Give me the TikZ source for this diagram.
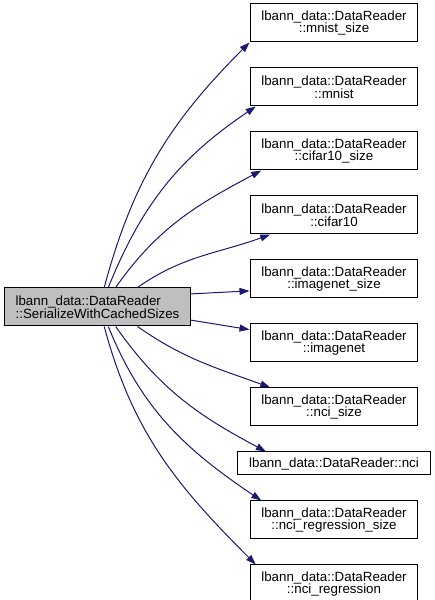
\documentclass[tikz,border=0pt]{standalone}
\usepackage{fontspec}
\setmainfont{Liberation Sans}
\usepackage{xcolor}
\usepackage{tikz}
\usetikzlibrary{positioning, arrows.meta}
\definecolor{callblue}{HTML}{191970}
\definecolor{rootgray}{HTML}{BFBFBF}
\tikzset{
  func/.style={
    rectangle, draw=black, line width=0.75pt, fill=white,
    inner xsep=8.5pt, inner ysep=2pt, minimum height=28.5pt,
    align=center, font=\fontsize{10}{9.5}\selectfont
  },
  funcline/.style={func, minimum height=17.25pt},
  root/.style={func, fill=rootgray, align=left, inner xsep=8pt},
  call/.style={draw=callblue, line width=0.75pt,
    -{Triangle[length=7.5pt, width=5.2pt]}},
}

\begin{document}
\begin{tikzpicture}[x=0.75pt, y=0.75pt, node distance=18.75pt]
  \useasboundingbox (0,0) rectangle (435,600);

  \node[func] (MNIST_SZ) at (334,577) {lbann\_data::DataReader\\::mnist\_size};
  \node[func, below=of MNIST_SZ] (MNIST) {lbann\_data::DataReader\\::mnist};
  \node[func, below=of MNIST] (CIFAR_SZ) {lbann\_data::DataReader\\::cifar10\_size};
  \node[func, below=of CIFAR_SZ] (CIFAR) {lbann\_data::DataReader\\::cifar10};
  \node[func, below=of CIFAR] (IMGNET_SZ) {lbann\_data::DataReader\\::imagenet\_size};
  \node[func, below=of IMGNET_SZ] (IMGNET) {lbann\_data::DataReader\\::imagenet};
  \node[func, below=of IMGNET] (NCI_SZ) {lbann\_data::DataReader\\::nci\_size};
  \node[funcline, below=of NCI_SZ] (NCI) {lbann\_data::DataReader::nci};
  \node[func, below=of NCI] (NCIREG_SZ) {lbann\_data::DataReader\\::nci\_regression\_size};
  \node[func, below=of NCIREG_SZ] (NCIREG) {lbann\_data::DataReader\\::nci\_regression};

  \node[root] (SERIAL) at (97.5,293) {lbann\_data::DataReader\\::SerializeWithCachedSizes};

  % calls fan out from the root
  \draw[call] (SERIAL.71) to[out=75, in=225] (MNIST_SZ.193);
  \draw[call] (SERIAL.61) to[out=68, in=214] (MNIST.194);
  \draw[call] (SERIAL.47) to[out=55, in=208] (CIFAR_SZ.195);
  \draw[call] (SERIAL.26) to[out=35, in=200] (CIFAR.197);
  \draw[call] (SERIAL.8) -- (IMGNET_SZ.188);
  \draw[call] (SERIAL.-8) -- (IMGNET.171);
  \draw[call] (SERIAL.-26) to[out=-35, in=160] (NCI_SZ.163);
  \draw[call] (SERIAL.-47) to[out=-55, in=152] (NCI.170);
  \draw[call] (SERIAL.-61) to[out=-68, in=146] (NCIREG_SZ.165);
  \draw[call] (SERIAL.-71) to[out=-75, in=135] (NCIREG.166);
\end{tikzpicture}
\end{document}
